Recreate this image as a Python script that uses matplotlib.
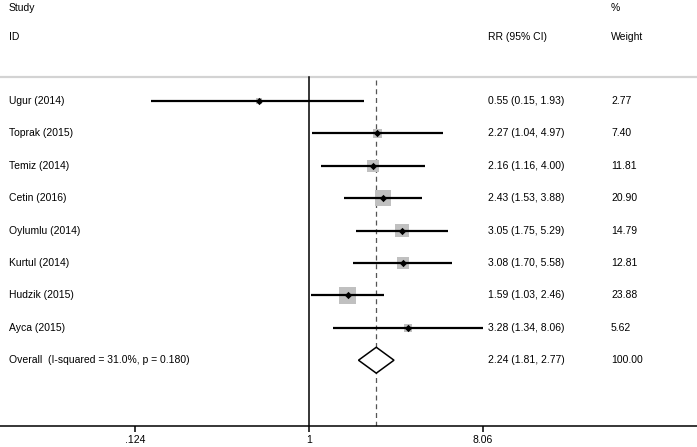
import numpy as np
import matplotlib
matplotlib.use("Agg")
import matplotlib.pyplot as plt

plt.rcParams['font.family'] = ['Liberation Sans', 'DejaVu Sans']

studies = ['Ugur (2014)', 'Toprak (2015)', 'Temiz (2014)', 'Cetin (2016)',
           'Oylumlu (2014)', 'Kurtul (2014)', 'Hudzik (2015)', 'Ayca (2015)']
rr = [0.55, 2.27, 2.16, 2.43, 3.05, 3.08, 1.59, 3.28]
lo = [0.15, 1.04, 1.16, 1.53, 1.75, 1.70, 1.03, 1.34]
hi = [1.93, 4.97, 4.00, 3.88, 5.29, 5.58, 2.46, 8.06]
weight = [2.77, 7.40, 11.81, 20.90, 14.79, 12.81, 23.88, 5.62]

overall_label = 'Overall  (I-squared = 31.0%, p = 0.180)'
overall = (2.24, 1.81, 2.77)
overall_weight = 100.00

xticks = [0.124, 1, 8.06]
xticklabels = ['.124', '1', '8.06']

fig = plt.figure(figsize=(6.97, 4.47), dpi=100)
ax = fig.add_axes([0, 0.047, 1, 0.953])
ax.set_xscale('log')
ax.set_xlim(np.exp(-3.705), np.exp(4.652))
ax.set_ylim(11.03, -2.117)

rows = np.arange(1, len(studies) + 1)
n_ov = len(studies) + 1

# reference lines
ax.axhline(0.259, color='#d3d3d3', lw=1.6, zorder=1)
ax.plot([1, 1], [0.259, 11.03], color='black', lw=1.1, zorder=2)
ax.plot([overall[0], overall[0]], [0.35, 11.03], color='#555555', lw=0.9,
        ls=(0, (4, 3)), zorder=2)

# weight squares
side = 2.52 * np.sqrt(weight)
ax.scatter(rr, rows, s=side**2, marker='s', color='#c0c0c0', lw=0, zorder=3)
ax.hlines(rows, lo, hi, color='black', lw=1.6, zorder=4)
ax.scatter(rr, rows, s=14, marker='D', color='black', lw=0, zorder=5)

# overall diamond
est, olo, ohi = overall
ax.fill([olo, est, ohi, est, olo], [n_ov, n_ov - 0.4, n_ov, n_ov + 0.4, n_ov],
        facecolor='white', edgecolor='black', lw=1.1, zorder=5)

# text columns
fs = 7.5
tr = ax.get_yaxis_transform()
xs_study, xs_rr, xs_w = 9 / 697, 488 / 697, 611 / 697
ax.text(xs_study, -1.87, 'Study', transform=tr, fontsize=fs, va='center')
ax.text(xs_study, -0.975, 'ID', transform=tr, fontsize=fs, va='center')
ax.text(xs_rr, -0.975, 'RR (95% CI)', transform=tr, fontsize=fs, va='center')
ax.text(xs_w, -1.87, '%', transform=tr, fontsize=fs, va='center')
ax.text(xs_w, -0.975, 'Weight', transform=tr, fontsize=fs, va='center')
for r, s, e, l, h, w in zip(rows, studies, rr, lo, hi, weight):
    ax.text(xs_study, r, s, transform=tr, fontsize=fs, va='center')
    ax.text(xs_rr, r, f'{e:.2f} ({l:.2f}, {h:.2f})', transform=tr, fontsize=fs, va='center')
    ax.text(xs_w, r, f'{w:.2f}', transform=tr, fontsize=fs, va='center')
ax.text(xs_study, n_ov, overall_label, transform=tr, fontsize=fs, va='center')
ax.text(xs_rr, n_ov, f'{est:.2f} ({olo:.2f}, {ohi:.2f})', transform=tr, fontsize=fs, va='center')
ax.text(xs_w, n_ov, f'{overall_weight:.2f}', transform=tr, fontsize=fs, va='center')

# axis
for sp in ['top', 'left', 'right']:
    ax.spines[sp].set_visible(False)
ax.spines['bottom'].set_linewidth(1.1)
ax.set_yticks([])
ax.set_xticks(xticks)
ax.set_xticklabels(xticklabels)
ax.minorticks_off()
ax.tick_params(axis='x', length=4.5, width=1.1, labelsize=fs, pad=2)

fig.savefig('out.png', dpi=100)
